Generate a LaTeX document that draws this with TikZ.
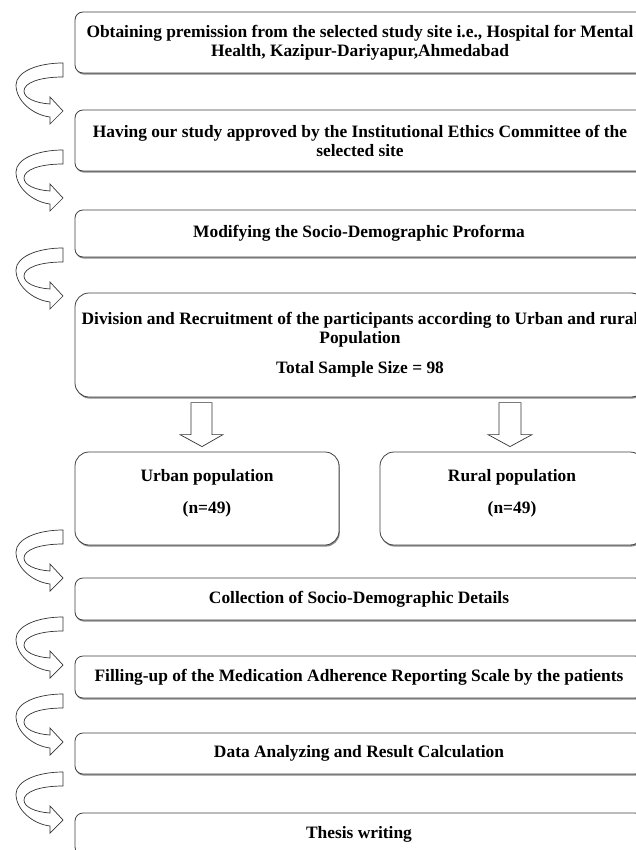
\documentclass[tikz,border=0pt]{standalone}
\usepackage{fontspec}
\setmainfont{Liberation Serif}
\usepackage{tikz}
\usetikzlibrary{shadows}

\begin{document}
\begin{tikzpicture}[x=1pt, y=-1pt,
  stepbox/.style={draw=black!75, line width=0.8pt, fill=white, rounded corners=8pt,
    drop shadow={shadow xshift=0.8pt, shadow yshift=-1.6pt, fill=black!45, opacity=1},
    align=center, inner sep=0pt, font=\fontsize{17.4}{19}\selectfont\bfseries},
  bigbox/.style={stepbox, rounded corners=14pt},
  fatarrow/.style={draw=black!80, line width=0.7pt, fill=white, line join=miter},
  bendarrow/.style={draw=black!80, line width=0.7pt, fill=white}]
\useasboundingbox (0,0) rectangle (636,850);
% boxes
\node[stepbox, minimum width=570, minimum height=61] (perm) at (360,42.5)
  {Obtaining premission from the selected study site i.e., Hospital for Mental\\Health, Kazipur-Dariyapur,Ahmedabad};
\node[stepbox, minimum width=570, minimum height=61] (approve) at (360,140.5)
  {Having our study approved by the Institutional Ethics Committee of the\\selected site};
\node[stepbox, minimum width=568, minimum height=47] (modify) at (359,233.5)
  {Modifying the Socio-Demographic Proforma};
\node[bigbox, minimum width=570, minimum height=104] (divide) at (360,345)
  {Division and Recruitment of the participants according to Urban and rural\\Population\\[11pt]Total Sample Size = 98};
\node[bigbox, minimum width=264, minimum height=93] (urban) at (207,498.5)
  {Urban population\\[13pt](n=49)\\[-4pt]\mbox{}};
\node[bigbox, minimum width=264, minimum height=93] (rural) at (512,498.5)
  {Rural population\\[13pt](n=49)\\[-4pt]\mbox{}};
\node[stepbox, minimum width=568, minimum height=42] (collect) at (359,599)
  {Collection of Socio-Demographic Details};
\node[stepbox, minimum width=568, minimum height=42] (fillup) at (359,677)
  {Filling-up of the Medication Adherence Reporting Scale by the patients};
\node[stepbox, minimum width=568, minimum height=41] (analyse) at (359,753.5)
  {Data Analyzing and Result Calculation};
\node[stepbox, minimum width=568, minimum height=42] (thesis) at (359,834)
  {Thesis writing};
% down arrows
\draw[fatarrow, shift={(urban.north)}] (-16,-49) -- (5,-49) -- (5,-17) -- (16,-17)
  -- (-5,-5) -- (-27,-17) -- (-16,-17) -- cycle;
\draw[fatarrow, shift={(rural.north)}] (-13,-49) -- (9,-49) -- (9,-17) -- (20,-17)
  -- (-2,-5) -- (-24,-17) -- (-13,-17) -- cycle;
% curved arrows
\foreach \t in {63,150,248,530,617,694,772}
  \draw[bendarrow, shift={(63,\t)}] (0,0) .. controls (-26,0) and (-47,9) .. (-47,22)
    .. controls (-47,38) and (-30,52) .. (-13,54) -- (-13,61) -- (0,48) -- (-13,34)
    -- (-13,41) .. controls (-28,40) and (-39,35) .. (-39,28)
    .. controls (-39,20) and (-24,14) .. (0,14) -- cycle;
\end{tikzpicture}
\end{document}
